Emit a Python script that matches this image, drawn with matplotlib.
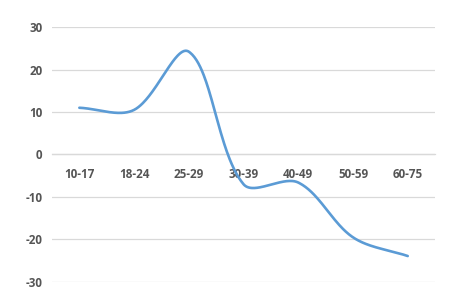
import numpy as np
import matplotlib
matplotlib.use("Agg")
import matplotlib.pyplot as plt

categories = ["10-17", "18-24", "25-29", "30-39", "40-49", "50-59", "60-75"]
values = [11.0, 10.5, 24.2, -7.0, -6.6, -19.5, -23.9]
y_ticks = [-30, -20, -10, 0, 10, 20, 30]


def smooth(ax, xs, ys, n=60):
    # Excel-like smoothed line: Bezier segments whose tangents are scaled
    # by neighbouring segment lengths (computed in display space).
    pts = ax.transData.transform(np.column_stack([xs, ys]))
    P = np.vstack([pts[0], pts, pts[-1]])
    m = len(pts)
    out = []
    for i in range(m - 1):
        p0, p1, p2, p3 = P[i], P[i + 1], P[i + 2], P[i + 3]
        d01 = np.linalg.norm(p1 - p0)
        d12 = np.linalg.norm(p2 - p1)
        d23 = np.linalg.norm(p3 - p2)
        t1 = p2 - p0
        t2 = p3 - p1
        f1 = d12 / (d01 + d12) / 3.0 if d01 + d12 > 0 else 0
        f2 = d12 / (d12 + d23) / 3.0 if d12 + d23 > 0 else 0
        c1 = p1 + t1 * f1
        c2 = p2 - t2 * f2
        t = np.linspace(0, 1, n)[:, None]
        seg = ((1 - t) ** 3) * p1 + 3 * ((1 - t) ** 2) * t * c1 + 3 * (1 - t) * t ** 2 * c2 + t ** 3 * p2
        out.append(seg if i == 0 else seg[1:])
    out = np.vstack(out)
    data = ax.transData.inverted().transform(out)
    return data[:, 0], data[:, 1]


plt.rcParams['font.family'] = ['Open Sans', 'DejaVu Sans']
fig = plt.figure(figsize=(4.58, 2.94), dpi=100)
ax = fig.add_axes([0.1135, 0.041, 0.8365, 0.867])

x = np.arange(len(categories))
ax.set_xlim(-0.5, len(categories) - 0.5)
ax.set_ylim(-30, 30)
sx, sy = smooth(ax, x, values)
ax.plot(sx, sy, color="#5B9BD5", linewidth=1.9, solid_capstyle="round", zorder=3)

ax.set_yticks(y_ticks)
ax.set_yticklabels([str(v) for v in y_ticks])
ax.set_xticks(x)
ax.set_xticklabels(categories)

grid_color = "#D9D9D9"
ax.grid(axis="y", color=grid_color, linewidth=0.9)
ax.set_axisbelow(True)
for s in ["top", "right", "left"]:
    ax.spines[s].set_visible(False)
ax.spines["bottom"].set_position(("data", 0))
ax.spines["bottom"].set_color(grid_color)
ax.spines["bottom"].set_linewidth(0.9)

ax.tick_params(axis="both", length=0, labelcolor="#555555", labelsize=8.4)
ax.tick_params(axis="y", pad=7)
ax.tick_params(axis="x", pad=9.5)
for lab in ax.get_xticklabels() + ax.get_yticklabels():
    lab.set_fontweight("bold")

fig.savefig("out.png", dpi=100, facecolor="white")
